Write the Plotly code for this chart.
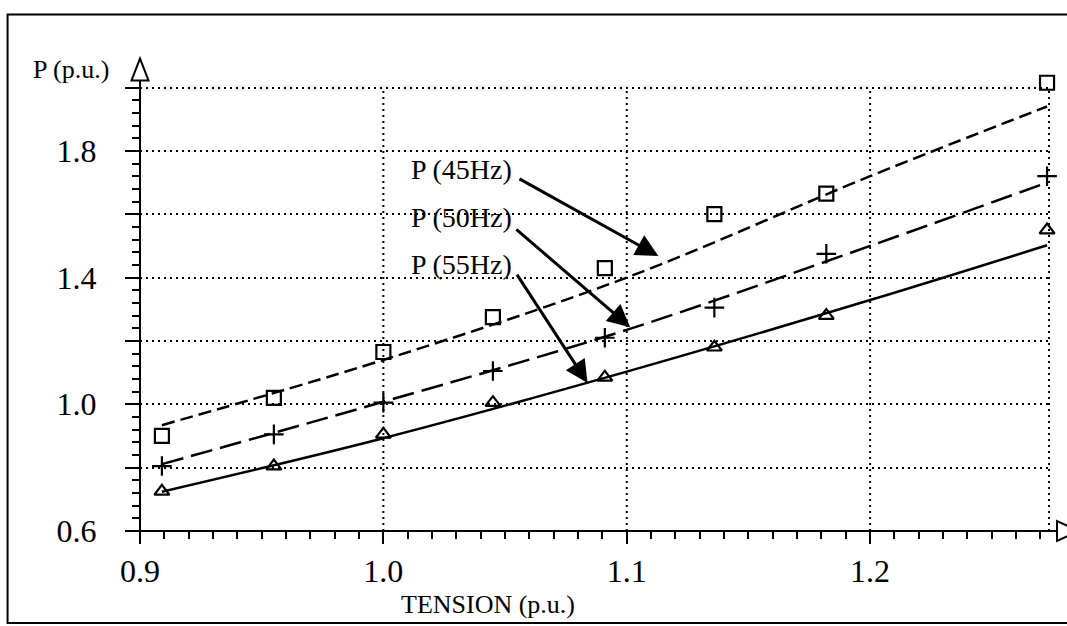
import plotly.graph_objects as go

# ---- data ----
tension = [0.909, 0.955, 1.0, 1.045, 1.091, 1.136, 1.182, 1.2727]
p45_pts = [0.90, 1.02, 1.165, 1.275, 1.43, 1.60, 1.665, 2.015]
p50_pts = [0.805, 0.905, 1.005, 1.105, 1.21, 1.305, 1.475, 1.72]
p55_pts = [0.725, 0.805, 0.905, 1.005, 1.085, 1.18, 1.28, 1.55]

fit_x = [0.909, 1.0, 1.1, 1.2, 1.2727]
fit45 = [0.934, 1.14, 1.40, 1.72, 1.94]
fit50 = [0.811, 1.008, 1.235, 1.50, 1.70]
fit55 = [0.724, 0.893, 1.103, 1.329, 1.502]

x_ticks = [0.9, 1.0, 1.1, 1.2]
x_ticktext = ["0.9", "1.0", "1.1", "1.2"]
x_grid = [1.0, 1.1, 1.2]
y_ticks = [0.6, 0.8, 1.0, 1.2, 1.4, 1.6, 1.8, 2.0]
y_ticktext = ["0.6", "", "1.0", "", "1.4", "", "1.8", ""]

labels = ["P (45Hz)", "P (50Hz)", "P (55Hz)"]
label_pos = [(1.032, 1.742), (1.032, 1.591), (1.032, 1.442)]
arrow_tail = [(1.0553, 1.714), (1.054, 1.556), (1.0545, 1.414)]
arrow_tip = [(1.113, 1.468), (1.1014, 1.2435), (1.0839, 1.067)]

X_RANGE = [0.9, 1.2735]
Y_RANGE = [0.6, 2.03]
Y_TOP_GRID = 2.0

W, H = 1067, 626
L, R, T, B = 139.5, 18, 77.5, 95
PW, PH = W - L - R, H - T - B

FONT = "Liberation Serif"
GRID = dict(color="black", width=2, dash="2px,4px")


def px(xp):
    return (xp - L) / PW


def py(yp):
    return (H - B - yp) / PH


fig = go.Figure()

# fitted curves
fig.add_trace(go.Scatter(x=fit_x, y=fit45, mode="lines", line_shape="spline",
                         line=dict(color="black", width=2.5, dash="13px,6px"),
                         showlegend=False, hoverinfo="skip"))
fig.add_trace(go.Scatter(x=fit_x, y=fit50, mode="lines", line_shape="spline",
                         line=dict(color="black", width=2.5, dash="22px,8px"),
                         showlegend=False, hoverinfo="skip"))
fig.add_trace(go.Scatter(x=fit_x, y=fit55, mode="lines", line_shape="spline",
                         line=dict(color="black", width=2.5),
                         showlegend=False, hoverinfo="skip"))

# measured points
fig.add_trace(go.Scatter(x=tension, y=p45_pts, mode="markers", name="P (45Hz)",
                         marker=dict(symbol="square-open", size=14, color="black",
                                     line=dict(width=2.2, color="black")),
                         showlegend=False, cliponaxis=False))
fig.add_trace(go.Scatter(x=tension, y=p50_pts, mode="markers", name="P (50Hz)",
                         marker=dict(symbol="cross-thin-open", size=14, color="black",
                                     line=dict(width=2.2, color="black")),
                         showlegend=False, cliponaxis=False))
fig.add_trace(go.Scatter(x=tension, y=p55_pts, mode="markers", name="P (55Hz)",
                         marker=dict(symbol="triangle-up-open", size=13, color="black",
                                     line=dict(width=2.2, color="black")),
                         showlegend=False, cliponaxis=False))

annotations = []
for txt, (tx, ty) in zip(labels, label_pos):
    annotations.append(dict(x=tx, y=ty, xref="x", yref="y", text=txt, showarrow=False,
                            xanchor="center", yanchor="middle",
                            font=dict(family=FONT, size=28, color="black")))
for (ax_, ay_), (hx, hy) in zip(arrow_tail, arrow_tip):
    annotations.append(dict(x=hx, y=hy, xref="x", yref="y", ax=ax_, ay=ay_,
                            axref="x", ayref="y", text="", showarrow=True,
                            arrowhead=2, arrowsize=1.5, arrowwidth=3, arrowcolor="black"))

# axis titles
annotations.append(dict(x=px(488), y=py(605), xref="paper", yref="paper", text="TENSION (p.u.)",
                        xanchor="center", yanchor="middle",
                        showarrow=False, font=dict(family=FONT, size=26, color="black")))
annotations.append(dict(x=px(70), y=py(69), xref="paper", yref="paper", text="P (p.u.)",
                        xanchor="center", yanchor="middle",
                        showarrow=False, font=dict(family=FONT, size=26, color="black")))

shapes = []
# vertical dotted gridlines, stopping at the top gridline
for gx in x_grid:
    shapes.append(dict(type="line", xref="x", yref="y", x0=gx, x1=gx, y0=Y_RANGE[0], y1=Y_TOP_GRID,
                       line=GRID, layer="below"))
shapes += [
    # right dotted border of the grid
    dict(type="line", xref="paper", yref="y", x0=1, x1=1, y0=Y_RANGE[0], y1=Y_TOP_GRID, line=GRID),
    # y axis extended line
    dict(type="line", xref="paper", yref="paper", x0=0, x1=0, y0=0, y1=py(80),
         line=dict(color="black", width=2)),
    # x axis extended line
    dict(type="line", xref="paper", yref="paper", x0=px(125), x1=px(1057), y0=0, y1=0,
         line=dict(color="black", width=2)),
    # top arrow of y axis
    dict(type="path", xref="paper", yref="paper",
         path=f"M {px(131)} {py(80)} L {px(148)} {py(80)} L {px(139.5)} {py(58)} Z",
         fillcolor="white", line=dict(color="black", width=2)),
    # right arrow of x axis
    dict(type="path", xref="paper", yref="paper",
         path=f"M {px(1057)} {py(521)} L {px(1057)} {py(541)} L {px(1079)} {py(531)} Z",
         fillcolor="white", line=dict(color="black", width=2)),
    # outer frame
    dict(type="rect", xref="paper", yref="paper", x0=px(7), x1=px(1072), y0=py(623), y1=py(14),
         line=dict(color="black", width=2)),
]

fig.update_layout(
    width=W, height=H,
    margin=dict(l=L, r=R, t=T, b=B, pad=0),
    paper_bgcolor="white", plot_bgcolor="white",
    font=dict(family=FONT, color="black"),
    showlegend=False,
    annotations=annotations,
    shapes=shapes,
    xaxis=dict(range=X_RANGE, tickmode="array", tickvals=x_ticks, ticktext=x_ticktext,
               ticks="outside", ticklen=12, tickwidth=2, tickcolor="black",
               tickfont=dict(family=FONT, size=32, color="black"),
               showline=False, zeroline=False, showgrid=False,
               minor=dict(dtick=0.01, tick0=0.9, ticks="outside", ticklen=7, tickwidth=2,
                          tickcolor="black", showgrid=False)),
    yaxis=dict(range=Y_RANGE, tickmode="array", tickvals=y_ticks, ticktext=y_ticktext,
               ticks="outside", ticklen=14, tickwidth=2, tickcolor="black",
               tickfont=dict(family=FONT, size=32, color="black"),
               ticklabelstandoff=22,
               showline=False, zeroline=False,
               showgrid=True, gridcolor="black", gridwidth=2, griddash="2px,4px",
               minor=dict(dtick=0.04, tick0=0.6, ticks="outside", ticklen=7, tickwidth=2,
                          tickcolor="black", showgrid=False)),
)

fig.write_html("out.html", config={"displayModeBar": False},
               post_script="document.body.style.margin='0px';document.body.style.overflow='hidden';")
